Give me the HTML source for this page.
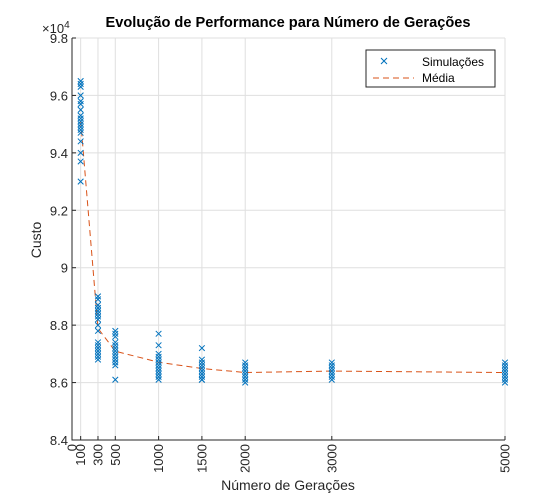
<!DOCTYPE html>
<html><head><meta charset="utf-8"><style>
body{margin:0;background:#fff;font-family:"Liberation Sans",sans-serif}
</style></head><body>
<svg id="c" width="556" height="495" xmlns="http://www.w3.org/2000/svg" font-family="Liberation Sans, sans-serif"></svg>
<script>
const generations=[100,300,500,1000,1500,2000,3000,5000];
const sims100=[9.65,9.64,9.63,9.60,9.58,9.57,9.55,9.53,9.52,9.51,9.50,9.49,9.48,9.47,9.44,9.40,9.37,9.30];
const sims300=[8.90,8.89,8.87,8.86,8.85,8.84,8.83,8.82,8.80,8.78,8.74,8.73,8.72,8.71,8.70,8.69,8.68];
const sims500=[8.78,8.77,8.76,8.74,8.73,8.72,8.71,8.70,8.69,8.68,8.67,8.66,8.61];
const sims1000=[8.77,8.73,8.70,8.69,8.68,8.67,8.66,8.65,8.64,8.63,8.62,8.61];
const sims1500=[8.72,8.68,8.67,8.66,8.65,8.64,8.63,8.62,8.61,8.61];
const sims2000=[8.67,8.66,8.65,8.64,8.63,8.62,8.61,8.60];
const sims3000=[8.67,8.66,8.65,8.64,8.63,8.62,8.61];
const sims5000=[8.67,8.66,8.65,8.64,8.63,8.62,8.61,8.60];
const xTicks=[0,100,300,500,1000,1500,2000,3000,5000];
const yTicks=[8.4,8.6,8.8,9,9.2,9.4,9.6,9.8];
const allSims=[sims100,sims300,sims500,sims1000,sims1500,sims2000,sims3000,sims5000];

const L=72,R=505,T=38,B=440;
const xs=v=>L+(v/5000)*(R-L);
const ys=v=>B-(v-8.4)/1.4*(B-T);
const svg=document.getElementById('c');
const NS='http://www.w3.org/2000/svg';
function mk(tag,attrs,parent){const e=document.createElementNS(NS,tag);for(const k in attrs)e.setAttribute(k,attrs[k]);(parent||svg).appendChild(e);return e;}

mk('rect',{x:L,y:T,width:R-L,height:B-T,fill:'#fff'});
xTicks.forEach(t=>{const g=mk('line',{x1:xs(t),x2:xs(t),y1:T,y2:B,stroke:'#dfdfdf','stroke-width':1});

});
yTicks.forEach(t=>{const g=mk('line',{x1:L,x2:R,y1:ys(t),y2:ys(t),stroke:'#dfdfdf','stroke-width':1});

});
const ax=mk('path',{d:`M${L},${T}V${B}H${R}`,stroke:'#262626',fill:'none','stroke-width':1});


xTicks.forEach(t=>{
 mk('line',{x1:xs(t),x2:xs(t),y1:B,y2:B-4,stroke:'#262626'});
 const tx=mk('text',{x:0,y:0,transform:`translate(${xs(t)+4.5},${B+4}) rotate(-90)`,'text-anchor':'end','font-size':13,fill:'#262626'});
 tx.textContent=t;
 
 
});
yTicks.forEach(t=>{
 mk('line',{x1:L,x2:L+4,y1:ys(t),y2:ys(t),stroke:'#262626'});
 const tx=mk('text',{x:L-4,y:ys(t)+5,'text-anchor':'end','font-size':13,fill:'#262626'});
 tx.textContent=(t===9?'9':t.toFixed(1));
 
 
});
const ex=mk('text',{x:L-30,y:T-5,'font-size':13,fill:'#262626'});
ex.innerHTML='×10<tspan dy="-5" font-size="10">4</tspan>';


const means=allSims.map(a=>a.reduce((s,v)=>s+v,0)/a.length);
const ml=mk('polyline',{points:generations.map((g,i)=>xs(g)+','+ys(means[i])).join(' '),fill:'none',stroke:'#d95319','stroke-width':1,'stroke-dasharray':'6,4'});


allSims.forEach((arr,i)=>arr.forEach(v=>{
 const x=xs(generations[i]),y=ys(v),s=2.8;
 const m=mk('path',{d:`M${x-s},${y-s}L${x+s},${y+s}M${x-s},${y+s}L${x+s},${y-s}`,stroke:'#0072bd','stroke-width':1});
 
 
}));
const ti=mk('text',{x:288,y:27,'text-anchor':'middle','font-size':14.6,'font-weight':'bold',fill:'#000'});
ti.textContent='Evolução de Performance para Número de Gerações';


const xl=mk('text',{x:288,y:490,'text-anchor':'middle','font-size':14,fill:'#262626'});
xl.textContent='Número de Gerações';


const yl=mk('text',{x:0,y:0,transform:'translate(41,240) rotate(-90)','text-anchor':'middle','font-size':14,fill:'#262626'});
yl.textContent='Custo';


const lg=mk('g',{});


mk('rect',{x:366,y:50,width:129,height:37,fill:'#fff',stroke:'#262626','stroke-width':1},lg);
mk('path',{d:'M381,58L387,64M381,64L387,58',stroke:'#0072bd','stroke-width':1},lg);
const t1=mk('text',{x:422,y:66,'font-size':12,fill:'#000'},lg);t1.textContent='Simulações';


mk('line',{x1:373,x2:414,y1:78,y2:78,stroke:'#d95319','stroke-dasharray':'6,4'},lg);
const t2=mk('text',{x:422,y:82,'font-size':12,fill:'#000'},lg);t2.textContent='Média';


</script>
</body></html>
